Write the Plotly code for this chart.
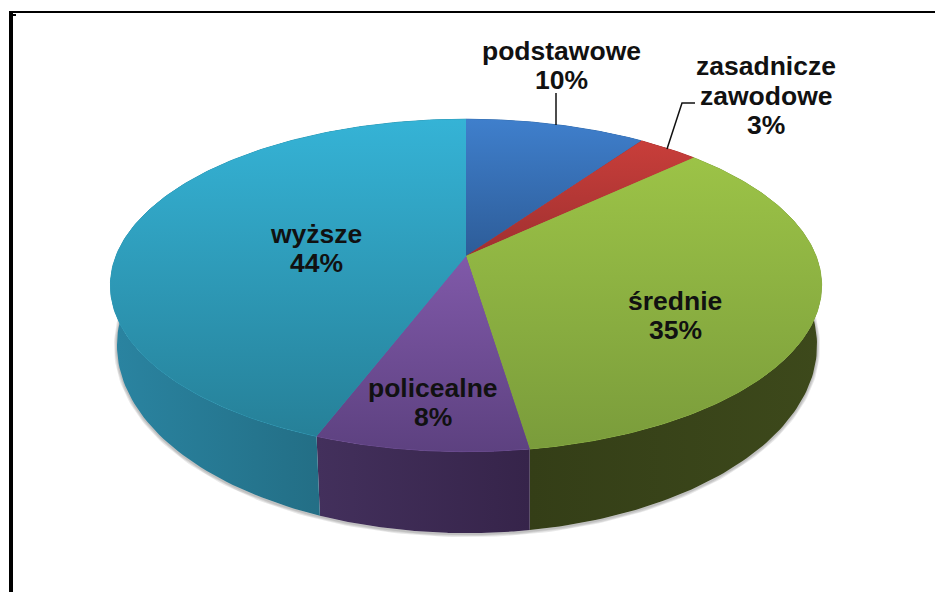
import numpy as np
import plotly.graph_objects as go

# ---- data ----
categories = ["podstawowe", "zasadnicze\nzawodowe", "średnie", "policealne", "wyższe"]
values = [9.7, 3.3, 34.6, 8.2, 44.2]
top_from = ["#3f7fcc", "#c83e3a", "#9cc347", "#8059a9", "#35b3d6"]
top_to = ["#2d5c98", "#a03030", "#7a9c3b", "#5d4180", "#268098"]
top_mid = ["#3670b2", "#b43735", "#8bb041", "#6e4d95", "#2e9ab7"]
side_from = ["#2d5c98", "#7a2424", "#343e17", "#43305c", "#2a84a1"]
side_to = ["#2d5c98", "#7a2424", "#3d491b", "#36244a", "#1e5f72"]
label_x = [561, 766, 675, 433, 316]
label_last_y = [80, 125, 330, 417, 263]

W, H = 935, 592
CX, CY = 466, 256      # apex of the pie
A, B, K = 350, 161, 0.177   # perspective projection of the top face
A2, B2, CY2 = 344.5, 182, 312  # projection of the bottom face
LINE_STEP = 29.5
FONT_SIZE = 26.5


def top_pt(t):
    d = 1 + K * np.cos(t)
    return CX + A * np.sin(t) / d, CY - B * np.cos(t) / d


def bot_pt(t):
    d = 1 + K * np.cos(t)
    return CX + 1 + A2 * np.sin(t) / d, CY2 - B2 * np.cos(t) / d


edges = np.radians(np.concatenate([[0], np.cumsum(values)]) / np.sum(values) * 360)

fig = go.Figure()

# soft shadow around the disc
tt = np.linspace(0, 2 * np.pi, 361)
sx, sy = bot_pt(tt)
for w in (6, 4, 2):
    fig.add_trace(go.Scatter(x=sx, y=sy + 1, mode="lines",
                             line=dict(color="rgba(0,0,0,0.09)", width=w),
                             hoverinfo="skip", showlegend=False))

# side walls
for i in range(len(values)):
    t = np.linspace(edges[i], edges[i + 1], 120)
    x1, y1 = top_pt(t)
    x2, y2 = bot_pt(t[::-1])
    x = np.concatenate([x1, x2, x1[:1]])
    y = np.concatenate([y1, y2, y1[:1]])
    fig.add_trace(go.Scatter(
        x=x, y=y, mode="lines", fill="toself", line=dict(width=0),
        fillgradient=dict(type="horizontal",
                          colorscale=[[0, side_from[i]], [1, side_to[i]]]),
        hoverinfo="skip", showlegend=False))

# top faces: a flat underlay closes the seams, the gradient goes on top
for i in range(len(values)):
    t = np.linspace(edges[i], edges[i + 1], 160)
    x1, y1 = top_pt(t)
    x = np.concatenate([[CX], x1, [CX]])
    y = np.concatenate([[CY], y1, [CY]])
    fig.add_trace(go.Scatter(
        x=x, y=y, mode="lines", fill="toself", fillcolor=top_mid[i],
        line=dict(color=top_mid[i], width=1),
        hoverinfo="skip", showlegend=False))
for i in range(len(values)):
    t = np.linspace(edges[i], edges[i + 1], 160)
    x1, y1 = top_pt(t)
    x = np.concatenate([[CX], x1, [CX]])
    y = np.concatenate([[CY], y1, [CY]])
    fig.add_trace(go.Scatter(
        x=x, y=y, mode="lines", fill="toself", line=dict(width=0),
        fillgradient=dict(type="vertical",
                          colorscale=[[0, top_to[i]], [1, top_from[i]]]),
        hoverinfo="skip", showlegend=False))

# leader lines
fig.add_trace(go.Scatter(x=[556, 556], y=[93, 125], mode="lines",
                         line=dict(color="#111111", width=1.5),
                         hoverinfo="skip", showlegend=False))
fig.add_trace(go.Scatter(x=[695, 682, 667], y=[103, 103, 149], mode="lines",
                         line=dict(color="#111111", width=1.5),
                         hoverinfo="skip", showlegend=False))

# labels, one annotation per line for the tight line spacing of the original
for name, v, lx, ly in zip(categories, values, label_x, label_last_y):
    lines = name.split("\n") + [f"{round(v)}%"]
    for k, line in enumerate(lines):
        fig.add_annotation(x=lx, y=ly - (len(lines) - 1 - k) * LINE_STEP,
                           xref="x", yref="y", showarrow=False, text=line,
                           font=dict(family="Liberation Sans", size=FONT_SIZE,
                                     color="#111111", weight="bold"))

# page frame
frame = [(9, 11, 935, 13), (9, 11, 13, 592), (11, 14, 16, 16)]
for x0, y0, x1, y1 in frame:
    fig.add_shape(type="rect", x0=x0, y0=y0, x1=x1, y1=y1, xref="x", yref="y",
                  fillcolor="black", line=dict(width=0))

fig.update_layout(width=W, height=H, margin=dict(l=0, r=0, t=0, b=0),
                  paper_bgcolor="white", plot_bgcolor="white",
                  xaxis=dict(range=[0, W], visible=False, fixedrange=True),
                  yaxis=dict(range=[H, 0], visible=False, fixedrange=True))
fig.write_html("out.html", config={"displayModeBar": False},
               post_script="document.body.style.margin='0';")
